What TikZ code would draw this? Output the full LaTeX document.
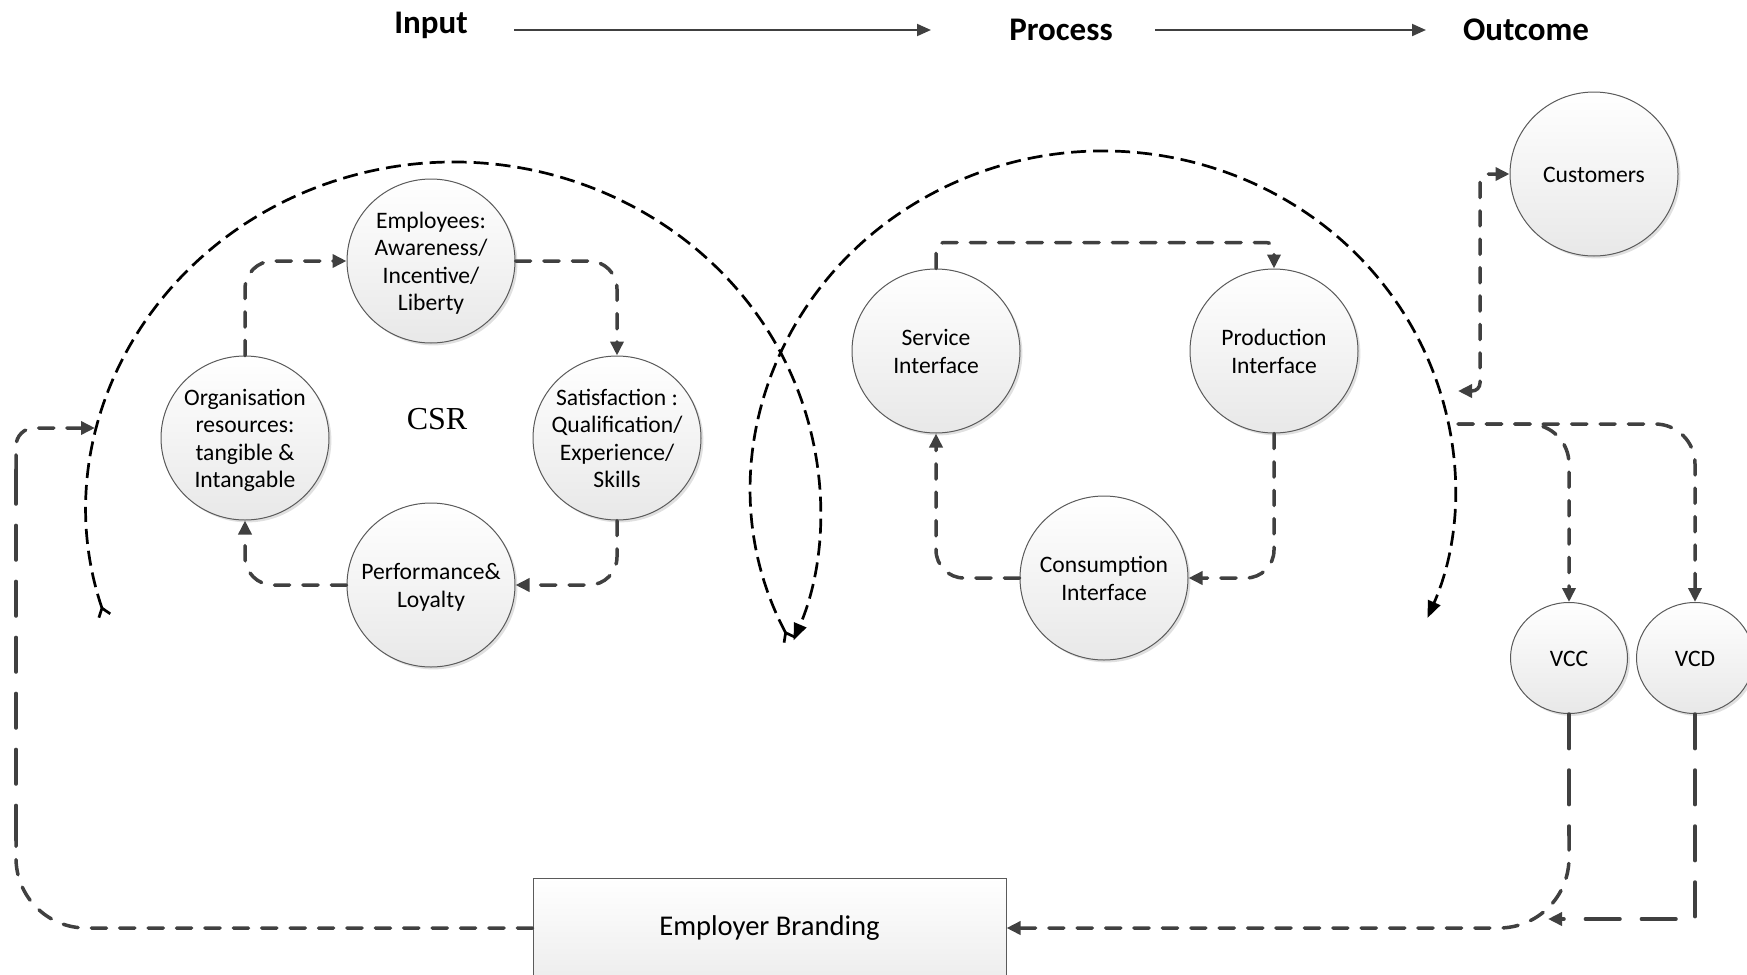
\documentclass[tikz,border=0pt]{standalone}
\usepackage{fontspec}
\setmainfont{Carlito}
\newfontfamily\csrfont{Liberation Serif}
\usetikzlibrary{arrows.meta,shapes.geometric,shadows,calc}
\definecolor{cgrey}{HTML}{404040}
\definecolor{cedge}{HTML}{5A5A5A}
\newcommand{\ctxt}[1]{\raisebox{-1.6pt}[\height][\depth]{\makebox[0pt]{\begin{tabular}{@{}c@{}}#1\end{tabular}}}}
\begin{document}
\begin{tikzpicture}[x=0.5pt,y=-0.5pt,
  bub/.style={ellipse, draw=cedge, line width=0.5pt, top color=white, bottom color=black!9,
    drop shadow={shadow xshift=1.2pt, shadow yshift=-1.2pt, fill=black, opacity=0.12},
    minimum width=84pt, minimum height=82pt, inner sep=0pt,
    font=\fontsize{11.8}{13.7}\selectfont},
  sbub/.style={bub, minimum width=58.5pt, minimum height=55.5pt},
  boxnode/.style={rectangle, draw=cedge, line width=0.5pt, top color=white, bottom color=black!7,
    minimum width=236.5pt, minimum height=50pt, inner sep=0pt,
    font=\fontsize{14.3}{16}\selectfont},
  ttl/.style={inner sep=0pt, anchor=base, font=\bfseries\fontsize{16.5}{18}\selectfont},
  hdr/.style={draw=cgrey, line width=1pt, -{Triangle[length=7pt,width=6pt]}},
  conn/.style={draw=cgrey, line width=1.75pt, line cap=round,
    dash pattern=on 7.6pt off 6.6pt, rounded corners=14pt,
    -{Triangle[length=7pt,width=6.5pt]}},
  longd/.style={dash pattern=on 17.3pt off 10.7pt},
  arcl/.style={draw=black, line width=1.35pt, dash pattern=on 7.5pt off 3.5pt}
]
\useasboundingbox (0,0) rectangle (1747,975);
\clip (0,0) rectangle (1747,975);

% header
\node[ttl] (In) at (431,33) {Input};
\node[ttl] (Pr) at (1061,40) {Process};
\node[ttl] (Out) at (1526,40) {Outcome};
\coordinate (h1s) at (514,30);
\coordinate (h1e) at (931,30);
\coordinate (h2s) at (1155,30);
\coordinate (h2e) at (1426,30);
\draw[hdr] (h1s) -- (h1e);
\draw[hdr] (h2s) -- (h2e);

% big arcs
\draw[arcl, {Straight Barb[reversed,length=4pt,width=6pt]}-{Triangle[length=8.5pt,width=6.5pt]}]
  (105,617) arc[start angle=197.9, end angle=-22, x radius=183.25pt, y radius=174pt];
\draw[arcl, {Straight Barb[reversed,length=4pt,width=6pt]}-{Triangle[length=8.5pt,width=6.5pt]}]
  (790,641) arc[start angle=207, end angle=-22.7, x radius=175.75pt, y radius=168.5pt];

% CSR cycle
\node[bub] (Emp) at (431,261) {\ctxt{Employees:\\Awareness/\\Incentive/\\Liberty}};
\node[bub] (Org) at (245,438) {\ctxt{Organisation\\resources:\\tangible \&\\Intangable}};
\node[bub] (Sat) at (617,438) {\ctxt{Satisfaction :\\Qualification/\\Experience/\\Skills}};
\node[bub] (Perf) at (431,585) {\ctxt{Performance\&\\Loyalty}};
\node[font=\csrfont\fontsize{16}{18}\selectfont] (csr) at (437,419) {CSR};

\draw[conn] (Org.north) |- (Emp.west);
\draw[conn] (Emp.east) -| (Sat.north);
\draw[conn] (Sat.south) |- (Perf.east);
\draw[conn] (Perf.west) -| (Org.south);

% process cycle
\node[bub] (Serv) at (936,351) {\ctxt{Service\\Interface}};
\node[bub] (Prod) at (1274,351) {\ctxt{Production\\Interface}};
\node[bub] (Cons) at (1104,578) {\ctxt{Consumption\\Interface}};

\draw[conn, rounded corners=4pt] (Serv.north) -- ++(0,-26) -| (Prod.north);
\draw[conn] (Prod.south) |- (Cons.east);
\draw[conn] (Cons.west) -| (Serv.south);

% outcome
\node[bub] (Cust) at (1594,174) {\ctxt{Customers}};
\node[sbub] (VCC) at (1569,658) {\ctxt{VCC}};
\node[sbub] (VCD) at (1695,658) {\ctxt{VCD}};
\node[boxnode] (EB) at (769.5,928) {Employer Branding};

\coordinate (cfree) at (1458,391);
\coordinate (ccor) at (1480,391);
\draw[conn, rounded corners=4pt, {Triangle[length=7pt,width=6.5pt]}-{Triangle[length=7pt,width=6.5pt]}]
  (cfree) -- (ccor) |- (Cust.west);

\coordinate (vstart) at (1458,424);
\draw[conn, rounded corners=20pt] (vstart) -| (VCC.north);
\draw[conn, rounded corners=20pt] (vstart) -| (VCD.north);

\coordinate (vccb) at (1569,835);
\draw[conn, longd, -] (VCC.south) -- (vccb);
\draw[conn, rounded corners=35pt] (vccb) |- (EB.east);

\coordinate (vcdend) at (1548,919);
\draw[conn, longd, rounded corners=0pt] (VCD.south) |- (vcdend);

\coordinate (lb1) at (16,840);
\coordinate (lb2) at (16,470);
\coordinate (arcin) at (95,428);
\draw[conn, -, rounded corners=35pt] (EB.west) -| (lb1);
\draw[conn, longd, -] (lb1) -- (lb2);
\draw[conn, rounded corners=9pt] (lb2) |- (arcin);
\end{tikzpicture}
\end{document}
